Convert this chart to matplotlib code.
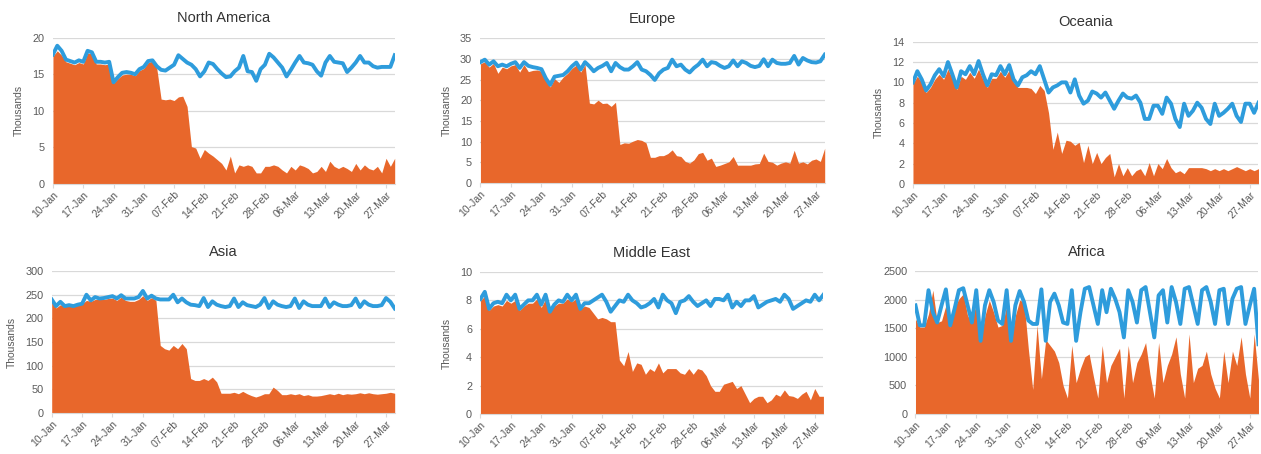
import matplotlib
matplotlib.use("Agg")
import matplotlib.pyplot as plt
import matplotlib.dates as mdates
import numpy as np
import pandas as pd

plt.rcParams['font.family'] = ['Liberation Sans', 'DejaVu Sans']

dates = pd.date_range('2020-01-10', periods=80, freq='D')

# blue line = baseline, orange area = current (per region)
na_line = [17.7, 18.9, 18.2, 17.0, 16.8, 16.6, 16.9, 16.7, 18.2, 18.0,
           16.7, 16.7, 16.6, 16.7, 13.9, 14.6, 15.2, 15.3, 15.2, 15.0,
           15.7, 16.0, 16.8, 16.9, 16.1, 15.6, 15.5, 15.9, 16.3, 17.6,
           17.1, 16.6, 16.3, 15.7, 14.7, 15.4, 16.6, 16.4, 15.7, 15.1,
           14.6, 14.7, 15.4, 15.9, 17.5, 15.4, 15.3, 14.1, 15.7, 16.3,
           17.8, 17.3, 16.6, 15.9, 14.7, 15.6, 16.6, 17.5, 16.6, 16.5,
           16.3, 15.4, 14.8, 16.6, 17.5, 16.7, 16.6, 16.5, 15.3, 15.9,
           16.6, 17.5, 16.6, 16.6, 16.1, 15.9, 16.0, 16.0, 16.0, 17.6]
na_area = [17.5, 18.2, 17.6, 16.7, 16.5, 16.3, 16.6, 16.4, 17.9, 17.8,
           16.4, 16.4, 16.3, 16.4, 13.8, 14.4, 14.9, 15.0, 15.0, 14.8,
           15.5, 15.8, 16.6, 16.8, 15.8, 11.6, 11.5, 11.6, 11.4, 11.9,
           12.0, 10.6, 5.1, 4.9, 3.5, 4.7, 4.2, 3.8, 3.3, 2.8,
           1.9, 3.8, 1.5, 2.6, 2.4, 2.6, 2.4, 1.5, 1.5, 2.4,
           2.4, 2.6, 2.4, 1.9, 1.5, 2.4, 1.9, 2.6, 2.4, 2.1,
           1.5, 1.7, 2.4, 1.7, 3.1, 2.4, 2.1, 2.4, 2.1, 1.7,
           2.8, 1.9, 2.6, 2.1, 1.9, 2.4, 1.5, 3.5, 2.4, 3.5]

eu_line = [29.2, 29.8, 28.6, 29.4, 28.2, 28.6, 28.2, 28.8, 29.2, 27.8,
           29.2, 28.3, 28.0, 27.8, 27.5, 25.3, 23.7, 25.7, 25.9, 26.1,
           27.0, 28.2, 29.1, 27.4, 29.2, 28.2, 27.0, 27.8, 28.3, 29.0,
           27.0, 29.0, 28.0, 27.4, 27.4, 28.2, 29.2, 27.4, 27.0, 26.1,
           24.9, 26.5, 27.4, 27.8, 29.8, 28.2, 28.6, 27.4, 26.7, 27.8,
           28.6, 29.8, 28.2, 29.2, 29.0, 28.3, 27.8, 28.2, 29.6, 28.2,
           29.4, 29.0, 28.3, 28.0, 28.3, 29.9, 28.2, 29.8, 29.0, 28.8,
           28.8, 29.0, 30.7, 28.6, 30.2, 29.6, 29.2, 29.1, 29.4, 31.0]
eu_area = [28.8, 29.3, 28.0, 28.9, 26.5, 28.0, 27.6, 28.3, 28.6, 26.8,
           28.6, 26.9, 27.2, 27.3, 27.0, 24.8, 23.2, 25.2, 24.3, 25.6,
           26.5, 27.7, 28.5, 26.8, 28.6, 19.3, 19.1, 20.0, 19.2, 19.3,
           18.5, 19.5, 9.3, 9.7, 9.6, 10.1, 10.5, 10.3, 9.7, 6.2,
           6.2, 6.6, 6.6, 7.1, 8.0, 6.6, 6.4, 5.2, 4.8, 5.6,
           7.1, 7.4, 5.5, 6.0, 4.0, 4.3, 4.7, 5.1, 6.4, 4.3,
           4.3, 4.3, 4.3, 4.6, 4.7, 7.2, 5.2, 5.0, 4.3, 4.8,
           5.1, 4.8, 7.9, 4.8, 5.1, 4.6, 5.5, 5.8, 5.2, 8.4]

oc_line = [10.0, 11.1, 10.3, 9.2, 9.8, 10.7, 11.3, 10.6, 12.0, 10.8,
           9.5, 11.1, 10.8, 11.6, 10.8, 12.1, 10.8, 9.7, 10.8, 10.7,
           11.6, 10.8, 11.7, 10.3, 9.7, 10.5, 10.7, 11.1, 10.8, 11.6,
           10.3, 9.0, 9.5, 9.7, 10.0, 10.0, 9.0, 10.3, 8.7, 7.9,
           8.2, 9.1, 8.9, 8.5, 9.0, 8.2, 7.4, 8.2, 8.9, 8.5,
           8.4, 8.7, 8.0, 6.4, 6.4, 7.7, 7.7, 6.9, 8.5, 7.9,
           6.4, 5.6, 7.9, 6.7, 7.2, 8.0, 7.5, 6.4, 5.9, 7.9,
           6.7, 7.0, 7.4, 7.9, 6.7, 6.1, 7.9, 7.9, 7.0, 8.0]
oc_area = [9.9, 10.6, 10.0, 9.0, 9.5, 10.3, 10.8, 10.3, 11.3, 10.4,
           9.3, 10.6, 10.3, 11.0, 10.4, 11.3, 10.3, 9.5, 10.4, 10.4,
           11.1, 10.5, 11.2, 10.0, 9.5, 9.5, 9.5, 9.4, 8.9, 9.7,
           9.2, 7.0, 3.4, 5.1, 3.0, 4.3, 4.2, 3.8, 4.1, 2.1,
           3.8, 2.0, 3.1, 2.0, 2.6, 3.0, 0.7, 2.0, 0.8, 1.6,
           0.8, 1.3, 1.5, 0.8, 2.1, 0.8, 2.0, 1.5, 2.5, 1.6,
           1.1, 1.3, 1.0, 1.6, 1.6, 1.6, 1.6, 1.5, 1.3, 1.5,
           1.3, 1.5, 1.3, 1.5, 1.7, 1.5, 1.3, 1.5, 1.3, 1.5]

as_line = [240, 226, 235, 226, 228, 226, 229, 231, 250, 238,
           245, 242, 243, 245, 247, 242, 249, 242, 242, 242,
           245, 258, 242, 248, 242, 240, 240, 240, 250, 234,
           242, 234, 229, 228, 226, 243, 224, 236, 229, 226,
           224, 226, 242, 224, 234, 228, 226, 224, 229, 243,
           222, 236, 229, 226, 224, 226, 242, 222, 236, 229,
           226, 226, 226, 242, 224, 234, 229, 226, 226, 228,
           242, 224, 236, 229, 226, 226, 228, 243, 235, 221]
as_area = [238, 222, 229, 226, 226, 226, 229, 231, 238, 236,
           240, 240, 240, 242, 243, 238, 245, 238, 236, 236,
           240, 248, 238, 244, 238, 143, 136, 133, 143, 136,
           147, 136, 73, 69, 69, 73, 69, 76, 66, 42,
           42, 42, 44, 41, 46, 41, 37, 34, 37, 41,
           41, 55, 48, 39, 39, 41, 39, 41, 37, 39,
           36, 36, 37, 39, 41, 39, 42, 39, 41, 40,
           41, 43, 41, 43, 41, 40, 41, 42, 44, 42]

me_line = [8.1, 8.6, 7.4, 7.8, 7.9, 7.8, 8.4, 8.0, 8.4, 7.4,
           7.7, 8.0, 8.0, 8.4, 7.7, 8.4, 7.2, 7.7, 8.0, 7.9,
           8.4, 8.0, 8.4, 7.4, 7.8, 7.8, 8.0, 8.2, 8.4, 7.9,
           7.2, 7.6, 8.0, 7.9, 8.4, 8.0, 7.8, 7.5, 7.6, 7.8,
           8.1, 7.5, 8.4, 8.0, 7.8, 7.1, 7.9, 8.0, 8.3, 7.9,
           7.6, 7.8, 8.0, 7.6, 8.1, 8.1, 8.0, 8.4, 7.5, 7.9,
           7.6, 8.0, 8.0, 8.3, 7.5, 7.7, 7.9, 8.0, 8.1, 7.9,
           8.4, 8.1, 7.4, 7.6, 7.8, 8.0, 7.9, 8.4, 8.0, 8.4]
me_area = [8.0, 8.3, 7.3, 7.6, 7.7, 7.6, 8.0, 7.8, 8.0, 7.3,
           7.6, 7.8, 7.8, 8.1, 7.5, 8.1, 7.2, 7.6, 7.8, 7.8,
           8.1, 7.9, 8.1, 7.4, 7.6, 7.5, 7.1, 6.7, 6.8, 6.7,
           6.5, 6.5, 3.8, 3.4, 4.4, 3.0, 3.6, 3.5, 2.8, 3.2,
           3.0, 3.6, 2.9, 3.2, 3.2, 3.2, 2.9, 2.8, 3.2, 2.8,
           3.2, 3.1, 2.7, 2.0, 1.6, 1.6, 2.1, 2.2, 2.3, 1.8,
           2.0, 1.4, 0.8, 1.1, 1.25, 1.25, 0.8, 1.0, 1.4, 1.25,
           1.7, 1.3, 1.25, 1.1, 1.4, 1.6, 1.0, 1.8, 1.25, 1.25]

af_line = [1900, 1550, 1550, 2165, 1780, 1600, 1900, 2180, 1550, 1840,
           2165, 2200, 1900, 1600, 2165, 1280, 1900, 2165, 1960, 1635,
           1575, 2165, 1280, 1900, 2150, 1960, 1635, 1575, 1575, 2180,
           1280, 1960, 2105, 1900, 1600, 1575, 2165, 1280, 1780, 2190,
           2220, 1900, 1575, 2165, 1780, 2190, 2015, 1780, 1340, 2165,
           1960, 1600, 2165, 2220, 1780, 1340, 2075, 2165, 1600, 2220,
           1960, 1575, 2190, 2220, 1900, 1575, 2165, 2220, 1960, 1575,
           2165, 2190, 1575, 2015, 2190, 2220, 1575, 1900, 2190, 1220]
af_area = [1660, 1520, 1520, 1750, 2165, 1600, 1630, 1900, 1520, 1870,
           2015, 2100, 1720, 1600, 1960, 1280, 1720, 1990, 1780, 1520,
           1550, 1900, 1280, 1720, 1990, 1960, 1135, 430, 1550, 620,
           1300, 1200, 1100, 900, 500, 280, 1200, 550, 800, 1000,
           1050, 650, 280, 1200, 550, 850, 1000, 1150, 280, 1200,
           550, 900, 1050, 1250, 700, 280, 1250, 550, 850, 1050,
           1350, 700, 280, 1400, 550, 800, 850, 1100, 700, 450,
           280, 1100, 550, 1100, 850, 1350, 700, 280, 1400, 600]

titles = ['North America', 'Europe', 'Oceania', 'Asia', 'Middle East', 'Africa']
lines = [na_line, eu_line, oc_line, as_line, me_line, af_line]
areas = [na_area, eu_area, oc_area, as_area, me_area, af_area]
y_max = [20, 35, 14, 300, 10, 2500]
y_step = [5, 5, 2, 50, 2, 500]
y_label = ['Thousands'] * 5 + ['']

# axes rectangles in figure fraction (left, bottom, width, height)
rects = [
    (0.042, 0.595, 0.271, 0.322),
    (0.381, 0.597, 0.273, 0.319),
    (0.724, 0.595, 0.274, 0.313),
    (0.041, 0.090, 0.272, 0.313),
    (0.381, 0.088, 0.272, 0.313),
    (0.726, 0.088, 0.272, 0.315),
]

ORANGE = '#E8672B'
BLUE = '#2E9CDC'
GRID = '#D9D9D9'
TXT = '#595959'

fig = plt.figure(figsize=(12.61, 4.54), dpi=100)

for i in range(6):
    ax = fig.add_axes(rects[i])
    ax.fill_between(dates, 0, areas[i], color=ORANGE, lw=0, zorder=2)
    ax.plot(dates, lines[i], color=BLUE, lw=2.8, zorder=3, solid_joinstyle='round')
    ax.set_xlim(dates[0], dates[-1])
    ax.set_ylim(0, y_max[i])
    ax.set_yticks(np.arange(0, y_max[i] + 1, y_step[i]))
    ax.set_xticks(dates[::7])
    ax.xaxis.set_major_formatter(mdates.DateFormatter('%d-%b'))
    ax.grid(axis='y', color=GRID, lw=0.9, zorder=0)
    ax.set_axisbelow(True)
    for s in ['top', 'right', 'left']:
        ax.spines[s].set_visible(False)
    ax.spines['bottom'].set_color(GRID)
    ax.tick_params(axis='y', length=0, labelsize=7.8, labelcolor=TXT, pad=6)
    ax.tick_params(axis='x', length=3, color=GRID, labelsize=7.5, labelcolor=TXT, pad=1)
    plt.setp(ax.get_xticklabels(), rotation=45, ha='right', rotation_mode='anchor')
    ax.set_title(titles[i], fontsize=10.5, color='#333333', pad=11)
    if y_label[i]:
        ax.set_ylabel(y_label[i], fontsize=7.5, color=TXT, labelpad=6)

fig.savefig('out.png', dpi=100)
